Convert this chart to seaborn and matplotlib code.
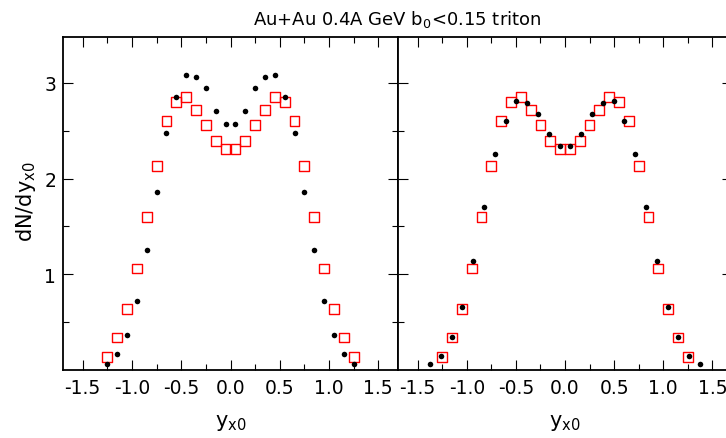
import matplotlib
matplotlib.use("Agg")
import matplotlib.pyplot as plt
import seaborn as sns
from matplotlib.ticker import FixedLocator

# Rapidity bins (y_x0) and dN/dy_x0 values
y_sq = [-1.25, -1.15, -1.05, -0.95, -0.85, -0.75, -0.65, -0.55, -0.45, -0.35, -0.25, -0.15, -0.05,
        0.05, 0.15, 0.25, 0.35, 0.45, 0.55, 0.65, 0.75, 0.85, 0.95, 1.05, 1.15, 1.25]
dn_sq = [0.14, 0.34, 0.64, 1.06, 1.60, 2.13, 2.60, 2.80, 2.85, 2.72, 2.56, 2.39, 2.31,
         2.31, 2.39, 2.56, 2.72, 2.85, 2.80, 2.60, 2.13, 1.60, 1.06, 0.64, 0.34, 0.14]

y_left = [-1.25, -1.15, -1.05, -0.95, -0.85, -0.75, -0.65, -0.55, -0.45, -0.35, -0.25, -0.15, -0.05,
          0.05, 0.15, 0.25, 0.35, 0.45, 0.55, 0.65, 0.75, 0.85, 0.95, 1.05, 1.15, 1.25]
dn_left = [0.06, 0.17, 0.37, 0.72, 1.25, 1.86, 2.48, 2.85, 3.08, 3.06, 2.95, 2.71, 2.57,
           2.57, 2.71, 2.95, 3.06, 3.08, 2.85, 2.48, 1.86, 1.25, 0.72, 0.37, 0.17, 0.06]

y_right = [-1.375, -1.265, -1.155, -1.045, -0.935, -0.825, -0.715, -0.605, -0.495, -0.385, -0.275, -0.165, -0.055,
           0.055, 0.165, 0.275, 0.385, 0.495, 0.605, 0.715, 0.825, 0.935, 1.045, 1.155, 1.265, 1.375]
dn_right = [0.06, 0.15, 0.34, 0.66, 1.14, 1.70, 2.26, 2.60, 2.81, 2.79, 2.68, 2.47, 2.34,
            2.34, 2.47, 2.68, 2.79, 2.81, 2.60, 2.26, 1.70, 1.14, 0.66, 0.34, 0.15, 0.06]

x_major = [-1.5, -1.0, -0.5, 0.0, 0.5, 1.0, 1.5]
x_minor = [-1.25, -0.75, -0.25, 0.25, 0.75, 1.25]
y_major = [1, 2, 3]
y_minor = [0.5, 1.5, 2.5]

title = "Au+Au 0.4A GeV b$_0$<0.15 triton"
xlabel = "y$_{x0}$"
ylabel = "dN/dy$_{x0}$"

sns.set_style("ticks")
plt.rcParams["font.family"] = ["DejaVu Sans"]
plt.rcParams["mathtext.default"] = "regular"
plt.rcParams["axes.unicode_minus"] = False
for key in ["text.color", "axes.labelcolor", "xtick.color", "ytick.color", "axes.edgecolor"]:
    plt.rcParams[key] = "black"

W, H = 726, 439
fig = plt.figure(figsize=(W / 100, H / 100), dpi=100)
ax1 = fig.add_axes([63 / W, (H - 371) / H, 335 / W, 333 / H])
ax2 = fig.add_axes([398 / W, (H - 371) / H, 334 / W, 333 / H])

for ax, xd, yd in [(ax1, y_left, dn_left), (ax2, y_right, dn_right)]:
    sns.scatterplot(x=y_sq, y=dn_sq, ax=ax, marker="s", s=50,
                    facecolor="none", edgecolor="#ff0000", linewidth=1.0, zorder=3)
    sns.scatterplot(x=xd, y=yd, ax=ax, marker="o", s=16,
                    color="black", linewidth=0, zorder=4)
    ax.set_xlim(-1.7, 1.7)
    ax.set_ylim(0, 3.48)
    ax.xaxis.set_major_locator(FixedLocator(x_major))
    ax.xaxis.set_minor_locator(FixedLocator(x_minor))
    ax.yaxis.set_major_locator(FixedLocator(y_major))
    ax.yaxis.set_minor_locator(FixedLocator(y_minor))
    ax.set_xticklabels([f"{v:.1f}" for v in x_major])
    ax.tick_params(which="both", direction="in", top=True, right=True,
                   width=0.8, color="black", labelcolor="black", labelsize=13.5)
    ax.tick_params(which="major", length=7.2)
    ax.tick_params(which="minor", length=4)
    ax.tick_params(axis="x", pad=6)
    ax.tick_params(axis="y", pad=5)
    for sp in ax.spines.values():
        sp.set_visible(True)
        sp.set_linewidth(1.3)
        sp.set_color("black")
    ax.set_xlabel(xlabel, fontsize=15, color="black")
    ax.xaxis.set_label_coords(0.5, -0.125)
    ax.grid(False)

ax1.set_yticklabels([str(v) for v in y_major])
ax1.set_ylabel(ylabel, fontsize=15, color="black")
ax1.yaxis.set_label_coords(-0.075, 0.51)
ax2.tick_params(labelleft=False)
ax2.set_ylabel("")

fig.text(397 / W, 1 - 25 / H, title, ha="center", va="baseline", fontsize=13, color="black")

fig.savefig("out.png", dpi=100)
